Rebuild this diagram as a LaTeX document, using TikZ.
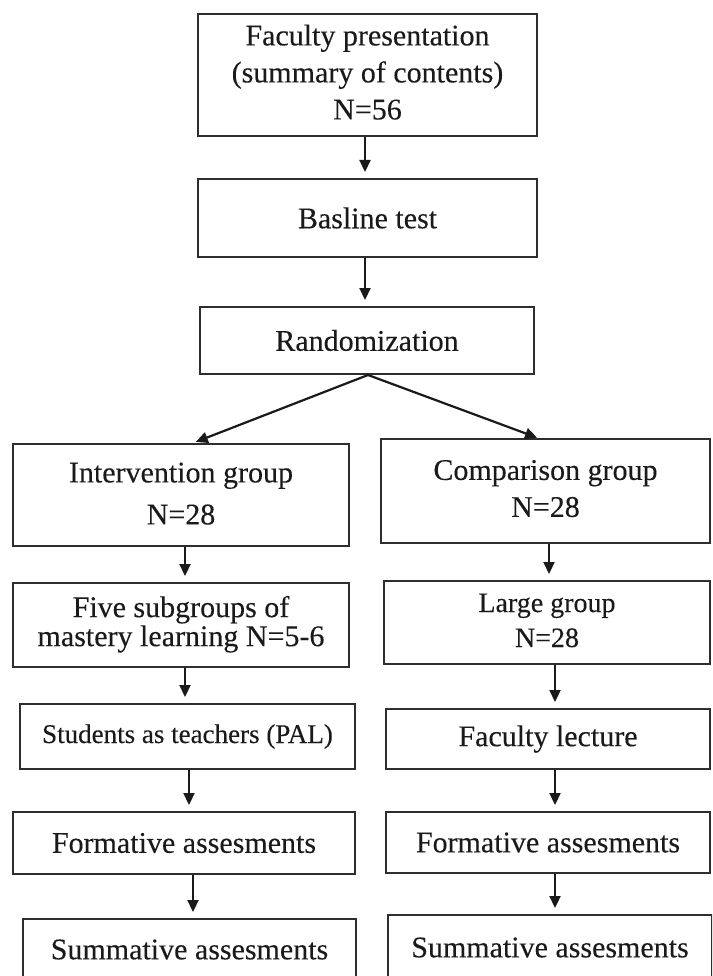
\documentclass[tikz,border=0pt]{standalone}
\usepackage{fontspec}
\setmainfont{Liberation Serif}[BoldFont=Liberation Serif, BoldFeatures={FakeBold=0.2}]
\usetikzlibrary{arrows.meta}
\definecolor{ink}{HTML}{1A1A1A}
\definecolor{edge}{HTML}{2E2E2E}
\tikzset{
  box/.style={draw=edge, line width=2pt, fill=white, inner sep=0pt, align=center,
    text=ink, font=\fontsize{30}{37}\selectfont\bfseries},
  arr/.style={draw=ink, line width=2.2pt, -{Triangle[length=12pt,width=11pt]}, shorten >=6pt},
}
\begin{document}
\begin{tikzpicture}[x=1pt,y=1pt]
\clip (0,0) rectangle (712,-976);
\fill[white] (0,0) rectangle (712,-976);
% top column
\node[box, minimum width=339pt, minimum height=122pt] (f1) at (367.5,-75) {\raisebox{-5pt}{\begin{tabular}{@{}c@{}}Faculty presentation\\(summary of contents)\\N=56\end{tabular}}};
\node[box, minimum width=339pt, minimum height=78pt] (f2) at (367.5,-218) {Basline test};
\node[box, minimum width=334pt, minimum height=67pt] (f3) at (367,-340.5) {Randomization};
% left column
\node[box, minimum width=336pt, minimum height=102pt, font=\fontsize{30}{42}\selectfont\bfseries] (iL) at (181,-495) {\raisebox{5pt}{\begin{tabular}{@{}c@{}}Intervention group\\N=28\end{tabular}}};
\node[box, minimum width=336pt, minimum height=84pt, font=\fontsize{30}{33}\selectfont\bfseries] (sL) at (181,-625) {\raisebox{-7pt}{\begin{tabular}{@{}c@{}}Five subgroups of\\[-4pt]mastery learning N=5-6\end{tabular}}};
\node[box, minimum width=335pt, minimum height=65pt, font=\fontsize{27}{32}\selectfont\bfseries] (pL) at (187.5,-736.5) {Students as teachers (PAL)};
\node[box, minimum width=342pt, minimum height=62pt] (foL) at (184,-843) {Formative assesments};
\node[box, minimum width=333pt, minimum height=61pt] (suL) at (189.5,-949.5) {Summative assesments};
% right column
\node[box, minimum width=329pt, minimum height=104pt] (cR) at (545.5,-491) {\raisebox{3pt}{\begin{tabular}{@{}c@{}}Comparison group\\N=28\end{tabular}}};
\node[box, minimum width=326pt, minimum height=83pt, font=\fontsize{28}{35}\selectfont\bfseries] (lR) at (547,-622.5) {\raisebox{-2pt}{\begin{tabular}{@{}c@{}}Large group\\N=28\end{tabular}}};
\node[box, minimum width=324pt, minimum height=60pt] (fR) at (548,-739) {Faculty lecture};
\node[box, minimum width=324pt, minimum height=61pt] (foR) at (548,-842.5) {Formative assesments};
\node[box, minimum width=324pt, minimum height=65pt] (suR) at (550,-947.5) {Summative assesments};
% arrow columns
\coordinate (xm) at (365,0);
\coordinate (xa) at (185,0);
\coordinate (xb) at (189,0);
\coordinate (xc) at (193,0);
\coordinate (xd) at (549,0);
\coordinate (xe) at (555,0);
\coordinate (xs) at (368,0);
\coordinate (xl) at (193,0);
\coordinate (xr) at (538,0);
\draw[arr] (f1.south -| xm) -- (f2.north -| xm);
\draw[arr] (f2.south -| xm) -- (f3.north -| xm);
\draw[arr, shorten >=3pt] (f3.south -| xs) -- (iL.north -| xl);
\draw[arr, shorten >=1pt] (f3.south -| xs) -- (cR.north -| xr);
\draw[arr] (iL.south -| xa) -- (sL.north -| xa);
\draw[arr] (sL.south -| xa) -- (pL.north -| xa);
\draw[arr] (pL.south -| xb) -- (foL.north -| xb);
\draw[arr] (foL.south -| xc) -- (suL.north -| xc);
\draw[arr] (cR.south -| xd) -- (lR.north -| xd);
\draw[arr] (lR.south -| xe) -- (fR.north -| xe);
\draw[arr] (fR.south -| xe) -- (foR.north -| xe);
\draw[arr] (foR.south -| xe) -- (suR.north -| xe);
\end{tikzpicture}
\end{document}
